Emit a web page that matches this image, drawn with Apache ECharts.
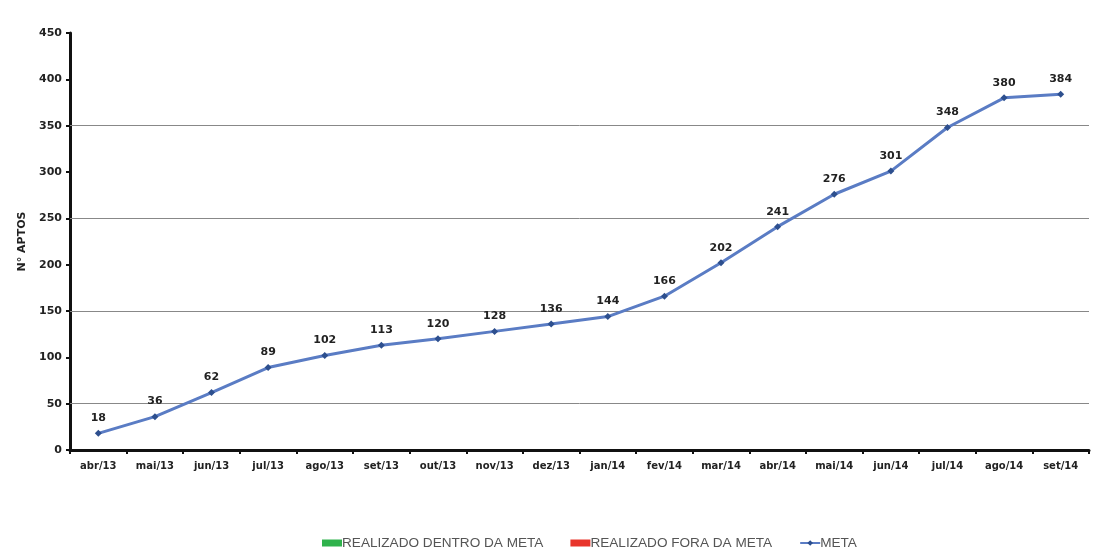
<!DOCTYPE html>
<html>
<head>
<meta charset="utf-8">
<script src="https://cdn.jsdelivr.net/npm/echarts@6/dist/echarts.min.js"></script>
<style>
  html, body { margin: 0; padding: 0; background: #ffffff; }
  #chart { width: 1099px; height: 557px; }
</style>
</head>
<body>
<div id="chart"></div>
<script>
// Months of the period
const months = ['abr/13', 'mai/13', 'jun/13', 'jul/13', 'ago/13', 'set/13', 'out/13', 'nov/13', 'dez/13',
  'jan/14', 'fev/14', 'mar/14', 'abr/14', 'mai/14', 'jun/14', 'jul/14', 'ago/14', 'set/14'];
// Cumulative target (META)
const meta = [18, 36, 62, 89, 102, 113, 120, 128, 136, 144, 166, 202, 241, 276, 301, 348, 380, 384];
// Realized series (no values in this period)
const realizadoDentro = [];
const realizadoFora = [];
// Horizontal reference lines
const gridValues = [50, 150, 250, 350];

const chart = echarts.init(document.getElementById('chart'));
chart.setOption({
  backgroundColor: '#ffffff',
  animation: false,
  grid: { left: 70, right: 10, top: 33, bottom: 107 },
  legend: {
    bottom: 2,
    left: 317,
    itemGap: 27,
    itemWidth: 20,
    itemHeight: 7,
    textStyle: { fontFamily: 'Liberation Sans, Arial, sans-serif', fontSize: 13.6, color: '#555', padding: [0, 0, 0, -5] },
    data: [
      { name: 'REALIZADO DENTRO DA META', icon: 'rect' },
      { name: 'REALIZADO FORA DA META', icon: 'rect' },
      { name: 'META' }
    ]
  },
  xAxis: {
    type: 'category',
    data: months,
    boundaryGap: true,
    axisLine: { lineStyle: { color: '#111', width: 3 } },
    axisTick: { show: true, length: 4, lineStyle: { color: '#111', width: 2 } },
    axisLabel: { interval: 0, color: '#222', fontSize: 10, fontWeight: 'bold', margin: 11, fontFamily: 'DejaVu Sans, sans-serif' }
  },
  yAxis: {
    type: 'value',
    min: 0,
    max: 450,
    interval: 50,
    name: 'N° APTOS',
    nameLocation: 'middle',
    nameGap: 40,
    nameRotate: 90,
    nameTextStyle: { color: '#222', fontSize: 11, fontWeight: 'bold', fontFamily: 'DejaVu Sans, sans-serif' },
    axisLine: { show: true, lineStyle: { color: '#111', width: 3 } },
    axisTick: { show: true, length: 4, lineStyle: { color: '#111', width: 2 } },
    axisLabel: { color: '#222', fontSize: 11, fontWeight: 'bold', margin: 8, fontFamily: 'DejaVu Sans, sans-serif' },
    splitLine: { show: false }
  },
  series: [
    {
      name: 'REALIZADO DENTRO DA META',
      type: 'bar',
      data: realizadoDentro,
      itemStyle: { color: '#2fb24c' }
    },
    {
      name: 'REALIZADO FORA DA META',
      type: 'bar',
      data: realizadoFora,
      itemStyle: { color: '#e8342b' }
    },
    {
      name: 'META',
      type: 'line',
      data: meta,
      symbol: 'diamond',
      symbolSize: 7,
      lineStyle: { color: '#5a7cc4', width: 3 },
      itemStyle: { color: '#2d4f8e' },
      label: {
        show: true,
        position: 'top',
        distance: 6,
        color: '#222',
        fontSize: 11,
        fontWeight: 'bold',
        fontFamily: 'DejaVu Sans, sans-serif'
      },
      markLine: {
        silent: true,
        symbol: ['none', 'none'],
        label: { show: false },
        lineStyle: { color: '#888', width: 1, type: 'solid' },
        z: 1,
        data: gridValues.map(v => ({ yAxis: v }))
      },
      z: 3
    }
  ]
});
</script>
</body>
</html>
